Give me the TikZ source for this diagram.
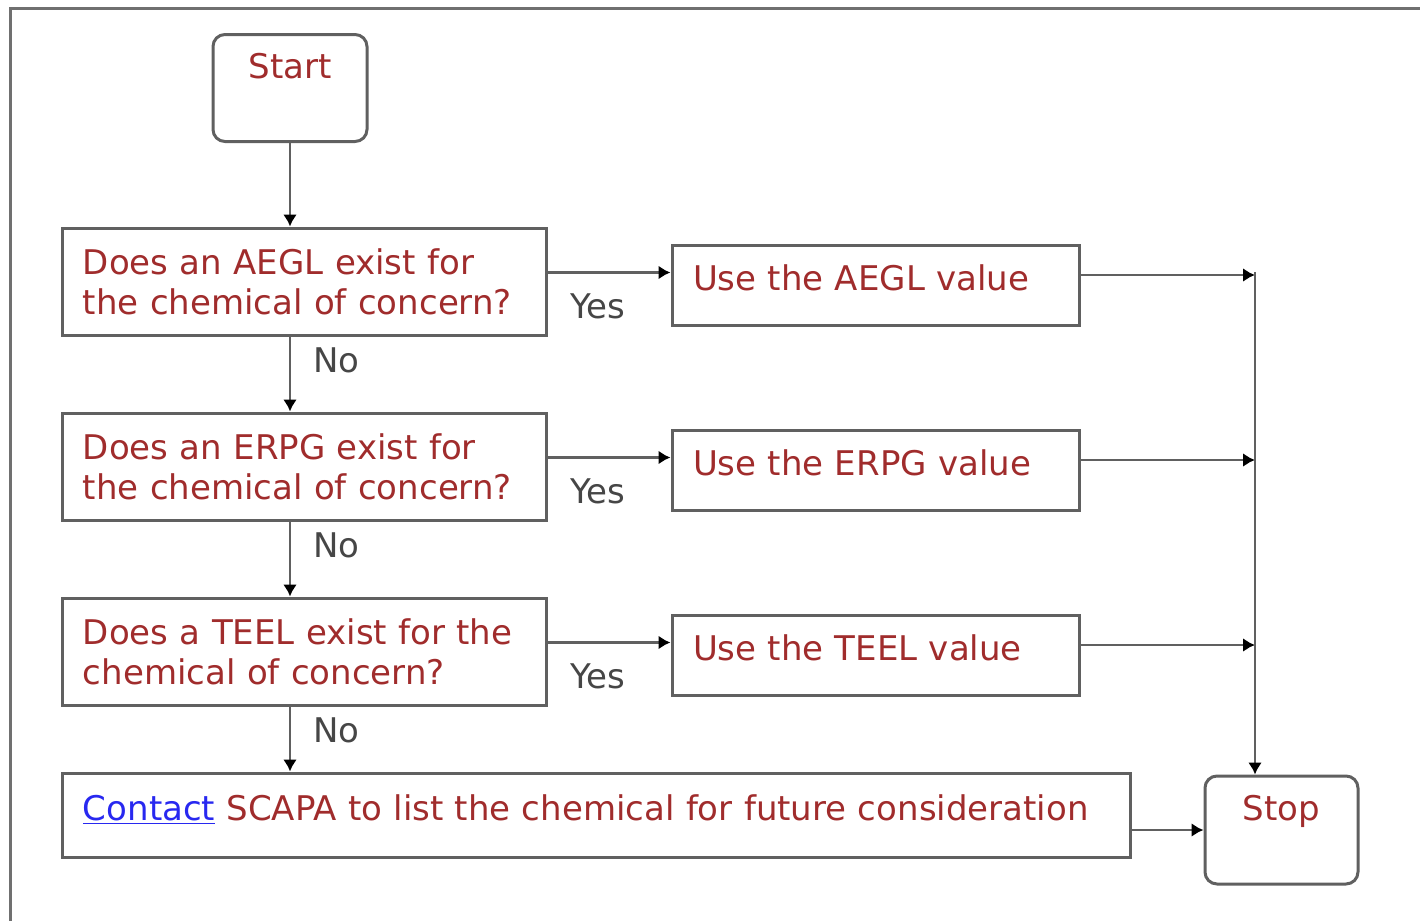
\documentclass[tikz,border=0pt]{standalone}
\usepackage{fontspec}
\setmainfont{DejaVu Sans}
\usetikzlibrary{arrows.meta,positioning}

\definecolor{boxred}{RGB}{160,44,44}
\definecolor{linegray}{RGB}{96,96,96}
\definecolor{labelgray}{RGB}{70,70,70}
\definecolor{linkblue}{RGB}{40,40,240}

\tikzset{
  boxfont/.style={font=\fontsize{17pt}{20pt}\selectfont},
  question/.style={rectangle, draw=linegray, line width=1.5pt, boxfont, text=boxred,
    minimum width=242pt, minimum height=53.5pt, text width=221pt, align=left, inner xsep=10.5pt},
  answer/.style={rectangle, draw=linegray, line width=1.5pt, boxfont, text=boxred,
    minimum width=203.5pt, minimum height=40pt, text width=182.5pt, align=left, inner xsep=10.5pt,
    text height=12pt, text depth=7pt},
  terminal/.style={rectangle, rounded corners=6pt, draw=linegray, line width=1.5pt, boxfont, text=boxred,
    minimum width=77pt, minimum height=53.5pt, text height=12pt, text depth=22pt},
  flow/.style={draw=linegray, line width=1.2pt, -{Latex[black,length=6pt,width=7pt]}},
  yeslabel/.style={anchor=north west, inner sep=0pt, xshift=11pt, yshift=-10pt, boxfont, text=labelgray},
  nolabel/.style={anchor=north west, inner sep=0pt, xshift=11pt, yshift=-5pt, boxfont, text=labelgray}
}

\begin{document}
\begin{tikzpicture}[x=0.5pt,y=-0.5pt,node distance=92.5pt,on grid]
    \useasboundingbox (0,0) rectangle (1420,921);
    \draw[linegray!90, line width=1.5pt] (10,921) -- (10,8) -- (1420,8);

    \node[terminal] (start) at (290,88) {Start};
    \node[question] (qaegl) at (304,281.5) {Does an AEGL exist for\\the chemical of concern?};
    \node[question] (qerpg) [below=of qaegl] {Does an ERPG exist for\\the chemical of concern?};
    \node[question] (qteel) [below=of qerpg] {Does a TEEL exist for the\\chemical of concern?};
    \node[answer] (uaegl) [right=285.75pt of qaegl, yshift=-1.75pt] {Use the AEGL value};
    \node[answer] (uerpg) [right=285.75pt of qerpg, yshift=-1.75pt] {Use the ERPG value};
    \node[answer] (uteel) [right=285.75pt of qteel, yshift=-1.75pt] {Use the TEEL value};
    \node[answer, minimum width=534pt, text width=513pt, minimum height=42pt] (contact) at (596,815)
        {{\color{linkblue}\underline{Contact}} SCAPA to list the chemical for future consideration};
    \node[terminal, minimum width=76.5pt, minimum height=54pt] (stop) at (1281.5,830) {Stop};
    \coordinate (bus) at (1255,272);

    \draw[flow] (start) -- (start.south |- qaegl.north);
    \draw[flow] (qaegl.south -| start.south) -- node[nolabel, pos=0] {No} (qerpg.north -| start.south);
    \draw[flow] (qerpg.south -| start.south) -- node[nolabel, pos=0] {No} (qteel.north -| start.south);
    \draw[flow] (qteel.south -| start.south) -- node[nolabel, pos=0] {No} (contact.north -| start.south);

    \draw[flow] ([yshift=4.5pt]qaegl.east) -- node[yeslabel, pos=0] {Yes} ([yshift=4.5pt]qaegl.east -| uaegl.west);
    \draw[flow] ([yshift=4.5pt]qerpg.east) -- node[yeslabel, pos=0] {Yes} ([yshift=4.5pt]qerpg.east -| uerpg.west);
    \draw[flow] ([yshift=4.5pt]qteel.east) -- node[yeslabel, pos=0] {Yes} ([yshift=4.5pt]qteel.east -| uteel.west);

    \draw[flow] ([yshift=5pt]uaegl.east) -- ([yshift=5pt]uaegl.east -| bus);
    \draw[flow] ([yshift=5pt]uerpg.east) -- ([yshift=5pt]uerpg.east -| bus);
    \draw[flow] ([yshift=5pt]uteel.east) -- ([yshift=5pt]uteel.east -| bus);
    \draw[flow] (bus) -- (bus |- stop.north);
    \draw[flow] (contact.east |- stop.west) -- (stop.west);
\end{tikzpicture}
\end{document}
